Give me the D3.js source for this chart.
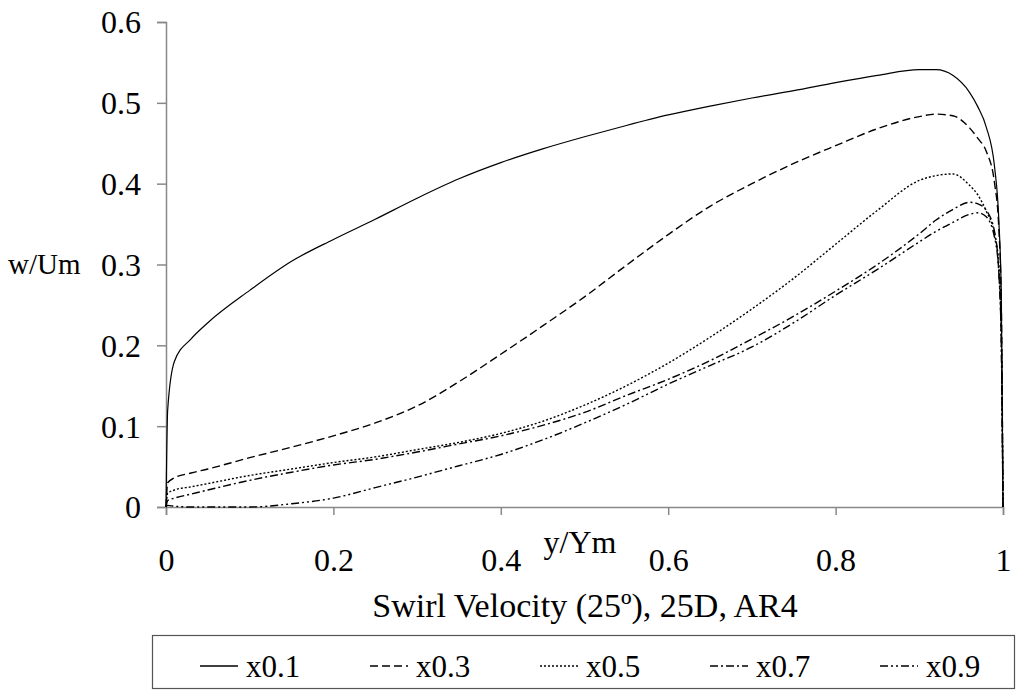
<!DOCTYPE html>
<html>
<head>
<meta charset="utf-8">
<script src="https://cdn.jsdelivr.net/npm/d3@7"></script>
<style>
  html, body { margin: 0; padding: 0; background: #fff; }
  svg { display: block; }
  text { font-family: "Liberation Serif", "Times New Roman", serif; fill: #000; }
</style>
</head>
<body>
<svg id="chart" width="1018" height="692"></svg>
<script>
// Radial position across the duct (y/Ym), shared by all profiles
const yPos = [0, 0.002, 0.01, 0.03, 0.05, 0.1, 0.15, 0.2, 0.25, 0.3, 0.35, 0.4, 0.45, 0.5,
  0.55, 0.6, 0.65, 0.7, 0.75, 0.8, 0.85, 0.9, 0.92, 0.94, 0.96, 0.97, 0.98, 0.99, 0.995, 0.998, 1.0];

// Swirl velocity w/Um at each station
const x01 = [0, 0.12, 0.18, 0.208, 0.228, 0.268, 0.304, 0.331, 0.356, 0.382, 0.406, 0.426, 0.443, 0.458,
  0.472, 0.485, 0.496, 0.506, 0.515, 0.525, 0.534, 0.541, 0.541, 0.534, 0.513, 0.495, 0.470, 0.420, 0.355, 0.26, 0];
const x03 = [0, 0.030, 0.036, 0.042, 0.047, 0.061, 0.074, 0.088, 0.104, 0.125, 0.155, 0.189, 0.224, 0.260,
  0.299, 0.337, 0.372, 0.400, 0.425, 0.447, 0.468, 0.483, 0.486, 0.484, 0.469, 0.456, 0.440, 0.400, 0.345, 0.25, 0];
const x05 = [0, 0.017, 0.021, 0.025, 0.029, 0.039, 0.047, 0.055, 0.062, 0.071, 0.080, 0.091, 0.106, 0.126,
  0.150, 0.178, 0.210, 0.245, 0.283, 0.325, 0.367, 0.404, 0.410, 0.412, 0.398, 0.386, 0.366, 0.337, 0.30, 0.22, 0];
const x07 = [0, 0.008, 0.011, 0.016, 0.021, 0.033, 0.043, 0.052, 0.059, 0.068, 0.078, 0.088, 0.101, 0.117,
  0.138, 0.158, 0.181, 0.208, 0.236, 0.267, 0.300, 0.338, 0.355, 0.368, 0.377, 0.375, 0.367, 0.340, 0.29, 0.20, 0];
const x09 = [0, 0.002, 0.001, 0, 0, 0, 0.004, 0.011, 0.024, 0.037, 0.051, 0.065, 0.083, 0.104,
  0.127, 0.152, 0.175, 0.198, 0.228, 0.262, 0.294, 0.328, 0.341, 0.352, 0.362, 0.364, 0.359, 0.333, 0.29, 0.20, 0];

const seriesNames = ["x0.1", "x0.3", "x0.5", "x0.7", "x0.9"];
const seriesValues = [x01, x03, x05, x07, x09];

const xTicks = [0, 0.2, 0.4, 0.6, 0.8, 1];
const yTicks = [0, 0.1, 0.2, 0.3, 0.4, 0.5, 0.6];

// Stroke pattern per station
const dashes = [null, "8,4", "2,2", "8,3,2,3", "8,3,2,3,2,3"];

const svg = d3.select("#chart");
const FONT = 32;

const x = d3.scaleLinear().domain([0, 1]).range([166, 1003]);
const y = d3.scaleLinear().domain([0, 0.6]).range([507, 22]);

// Axes
const yAxis = svg.append("g")
  .attr("transform", `translate(${x(0)},0)`)
  .call(d3.axisLeft(y).tickValues(yTicks).tickSize(9).tickPadding(16)
    .tickFormat(d => d3.format("~g")(d)));
const xAxis = svg.append("g")
  .attr("transform", `translate(0,${y(0)})`)
  .call(d3.axisBottom(x).tickValues(xTicks).tickSize(8)
    .tickFormat(d => d3.format("~g")(d)));

[yAxis, xAxis].forEach(g => {
  g.attr("font-family", null).attr("font-size", null);
  g.select(".domain").attr("stroke", "#888").attr("stroke-width", 1.5);
  g.selectAll(".tick line").attr("stroke", "#888").attr("stroke-width", 1.5);
  g.selectAll(".tick text").attr("font-size", FONT).attr("fill", "#000");
});
yAxis.selectAll(".tick text").attr("dy", "0.34em");
xAxis.selectAll(".tick text").attr("dy", "0").attr("y", 64);

// Axis titles
svg.append("text").attr("x", 8).attr("y", y(0.3)).attr("dy", "0.34em")
  .attr("font-size", 29).text("w/Um");
svg.append("text").attr("x", 580).attr("y", 553).attr("text-anchor", "middle")
  .attr("font-size", FONT).text("y/Ym");
svg.append("text").attr("x", 585).attr("y", 617).attr("text-anchor", "middle")
  .attr("font-size", 34).text("Swirl Velocity (25º), 25D, AR4");

// Profiles
const line = d3.line()
  .x((d, i) => x(yPos[i]))
  .y(d => y(d))
  .curve(d3.curveMonotoneX);

svg.append("g").selectAll("path")
  .data(seriesValues)
  .join("path")
  .attr("d", d => line(d))
  .attr("fill", "none")
  .attr("stroke", "#000")
  .attr("stroke-width", (d, i) => i === 0 ? 1.2 : 1.4)
  .attr("stroke-dasharray", (d, i) => dashes[i]);

// Legend
const legend = svg.append("g");
legend.append("rect")
  .attr("x", 152.5).attr("y", 635.5).attr("width", 862).attr("height", 53)
  .attr("fill", "#fff").attr("stroke", "#555").attr("stroke-width", 1.2);
const item = legend.selectAll("g.item")
  .data(seriesNames)
  .join("g")
  .attr("class", "item")
  .attr("transform", (d, i) => `translate(${200 + i * 170},0)`);
item.append("line")
  .attr("x1", 0).attr("x2", 38).attr("y1", 666).attr("y2", 666)
  .attr("stroke", "#000").attr("stroke-width", 1.3)
  .attr("stroke-dasharray", (d, i) => dashes[i]);
item.append("text")
  .attr("x", 46).attr("y", 677)
  .attr("font-size", 31)
  .text(d => d);
</script>
</body>
</html>
